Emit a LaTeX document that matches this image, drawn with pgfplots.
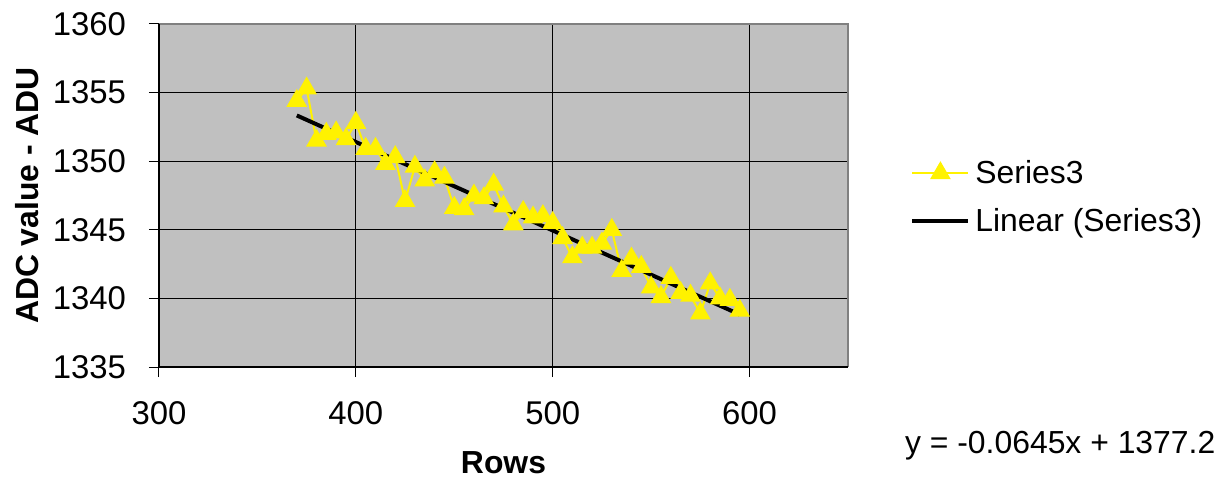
\documentclass[border=0pt]{standalone}
\usepackage{fontspec}
\setmainfont{Liberation Sans}
\usepackage{pgfplots}
\pgfplotsset{compat=1.18}
\definecolor{plotgray}{HTML}{C0C0C0}
\definecolor{bordergray}{HTML}{808080}
\begin{document}
\begin{tikzpicture}
\begin{axis}[
  at={(0,0)}, anchor=south west,
  scale only axis, width=344.5bp, height=171.5bp,
  xmin=300, xmax=650, ymin=1335, ymax=1360,
  xtick={300,400,500,600}, ytick={1335,1340,1345,1350,1355,1360},
  grid=major, major grid style={black, line width=0.5bp},
  axis background/.style={fill=plotgray},
  axis line style={draw=none},
  tick align=outside, tick style={black, line width=0.5bp},
  major tick length=5bp,
  xtick pos=bottom, ytick pos=left,
  /pgf/number format/assume math mode=true,
  /pgf/number format/1000 sep={},
  tick label style={font=\fontsize{16.5}{19}\selectfont},
  xticklabel style={yshift=-9bp},
  yticklabel style={xshift=-8bp},
  xlabel={\textbf{Rows}}, ylabel={\textbf{ADC value - ADU}},
  label style={font=\fontsize{16}{19}\selectfont},
  xlabel style={yshift=-6.5bp},
  ylabel style={yshift=0bp},
  clip=false,
  legend style={draw=none, fill=none, at={(1.09,0.495)}, anchor=west,
    font=\fontsize{16}{19}\selectfont, row sep=11bp, inner sep=0pt,
    nodes={inner sep=0pt, inner xsep=2.5bp}},
  legend cell align=left,
  legend image code/.code={\draw[mark repeat=2,mark phase=2,#1] plot coordinates {(0bp,0bp)(14bp,0bp)(28bp,0bp)};},
]
\draw[bordergray, line width=0.8bp] (rel axis cs:0,1) -- (rel axis cs:1,1) -- (rel axis cs:1,0);
\draw[black, line width=0.8bp] (rel axis cs:0,1) -- (rel axis cs:0,0) -- (rel axis cs:1,0);
\addplot[color=yellow, line width=1bp, mark=triangle*, mark size=5bp, mark options={fill=yellow, draw=yellow}] coordinates {
(370,1354.4) (375,1355.3) (380,1351.5) (385,1352.0) (390,1352.1) (395,1351.6)
(400,1352.8) (405,1350.9) (410,1350.9) (415,1349.8) (420,1350.3) (425,1347.1)
(430,1349.6) (435,1348.6) (440,1349.2) (445,1348.8) (450,1346.6) (455,1346.5)
(460,1347.5) (465,1347.3) (470,1348.3) (475,1346.7) (480,1345.4) (485,1346.3)
(490,1345.9) (495,1346.0) (500,1345.5) (505,1344.4) (510,1343.0) (515,1343.7)
(520,1343.7) (525,1344.0) (530,1345.0) (535,1342.0) (540,1342.9) (545,1342.3)
(550,1340.8) (555,1340.1) (560,1341.5) (565,1340.4) (570,1340.2) (575,1338.9)
(580,1341.1) (585,1340.0) (590,1339.9) (595,1339.1)
};
\addlegendentry{Series3}
\addplot[black, line width=2bp] coordinates {(370,1353.335) (595,1338.823)};
\addlegendentry{Linear (Series3)}
\node[font=\fontsize{16}{19}\selectfont] at (rel axis cs:1.308,-0.230) {y = -0.0645x + 1377.2};
\end{axis}
\pgfresetboundingbox
\path (-79.5bp,-58bp) rectangle (535bp,183.5bp);
\end{tikzpicture}
\end{document}
